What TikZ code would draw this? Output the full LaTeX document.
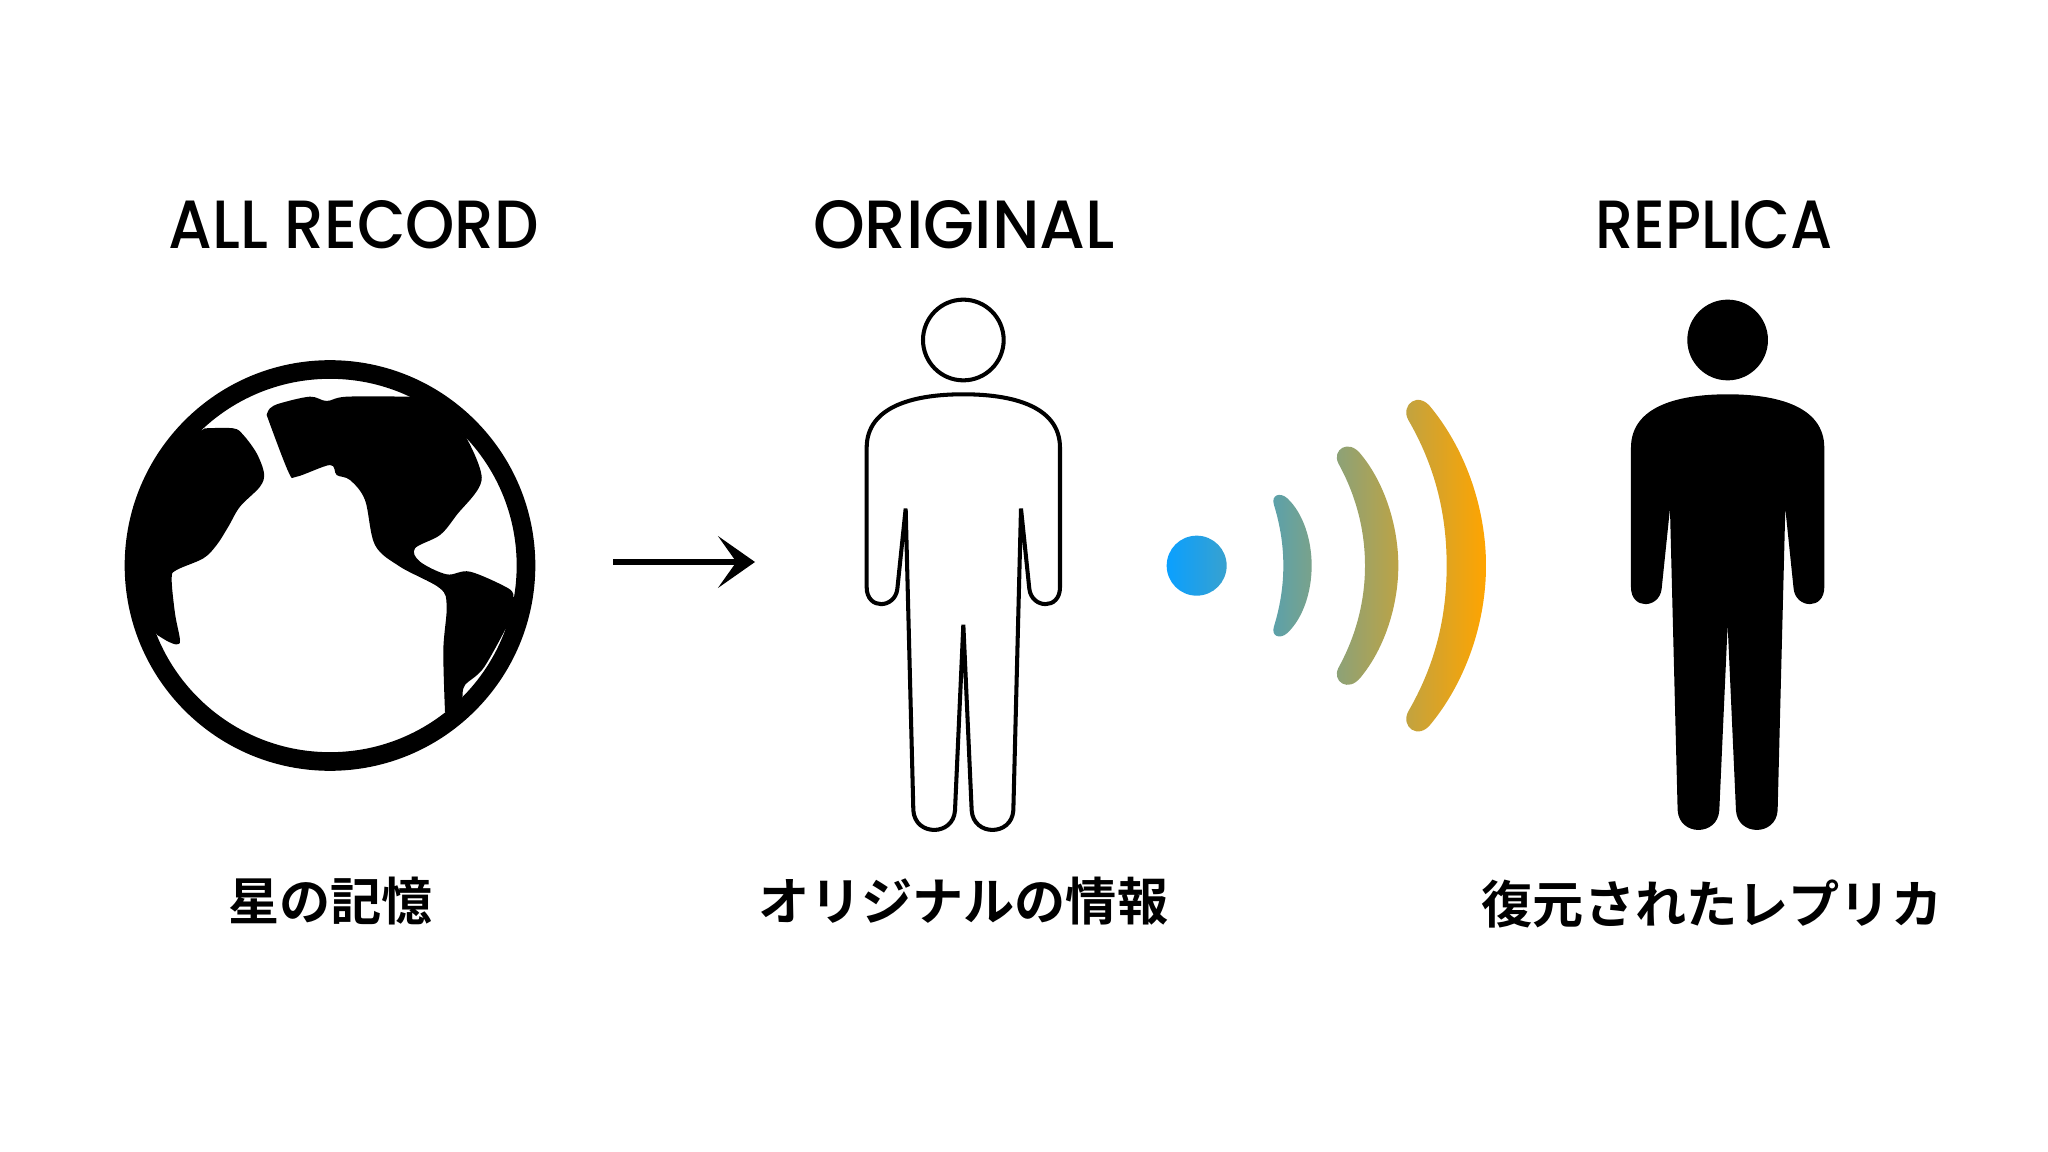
\documentclass[tikz,border=0pt]{standalone}
\usepackage{fontspec}
\usepackage{graphicx}
\usepackage{tikz}
\usetikzlibrary{arrows.meta, positioning}
\newfontfamily\latinfont{Poppins Medium}
\newfontfamily\jpfont{Noto Sans CJK JP Bold}
\definecolor{sigblue}{HTML}{0AA0FF}
\definecolor{sigorange}{HTML}{FFA400}

% one person, in zoomed units around the figure
\newcommand{\personbody}{
  (197,640) -- (172,865) .. controls (165,920) and (80,925) .. (80,860) -- (80,470)
  .. controls (80,350) and (230,320) .. (370,320) .. controls (510,320) and (660,350) .. (660,470)
  -- (660,860) .. controls (660,925) and (575,920) .. (568,865) -- (543,640)
  -- (520,1485) .. controls (515,1558) and (400,1558) .. (395,1485) -- (370,965)
  -- (345,1485) .. controls (340,1558) and (225,1558) .. (220,1485) -- cycle
  (370,168) circle[x radius=121, y radius=113]
}

\begin{document}
\begin{tikzpicture}[
  x=0.01cm, y=-0.01cm,
  heading/.style={font=\latinfont\fontsize{19.4}{23}\selectfont, inner sep=0pt, anchor=base},
  caption/.style={font=\jpfont\fontsize{14.55}{17}\selectfont, inner sep=0pt},
  arr/.style={-{Stealth[length=10.5pt,width=14.7pt,inset=5.2pt]}, line width=1.45pt},
  land/.style={fill=black},
  zoomed/.style={x=0.01cm/3, y=-0.01cm/3},
  tall/.style={x=0.01cm/3, y=-0.01cm/2.8},
]
\useasboundingbox (0,0) rectangle (2048,1152);

% titles
\node[heading] (allrecord) at (354,249) {\scalebox{.92}[1]{ALL RECORD}};
\node[heading] (original) at (964,249) {\scalebox{.966}[1]{ORIGINAL}};
\node[heading] (replica) at (1714,249) {\scalebox{.887}[1]{REPLICA}};

\node[caption] (kioku) at (330.5,901) {星の記憶};
\node[caption] (info) at (963.5,901) {オリジナルの情報};
\node[caption] (copy) at (1712,904) {復元されたレプリカ};

% globe
\begin{scope}[shift={(100,340)}, zoomed]
  \fill[land] plot[smooth,tension=.55] coordinates {(315,265) (400,265) (430,285) (470,340) (492,400) (480,440) (420,500) (385,560) (350,615) (310,655) (230,690) (215,715) (225,820) (240,900) (230,913) (205,905) (172,885)}
    -- (100,800) -- (100,500) -- (250,300) -- cycle;
  \fill[land] plot[smooth,tension=.55] coordinates {(500,225) (510,205) (540,190) (630,170) (680,183) (740,170) (930,170)}
    -- (1010,180) -- (1100,295)
    -- plot[smooth,tension=.55] coordinates {(1100,295) (1145,420) (1070,525) (1020,585) (945,625) (960,665) (1040,703) (1110,695) (1225,745) (1240,770)}
    -- (1270,800) -- (1215,870)
    -- plot[smooth,tension=.55] coordinates {(1215,870) (1150,985) (1095,1035) (1088,1068)}
    -- (1060,1130) -- (1035,1115)
    -- plot[smooth,tension=.55] coordinates {(1035,1115) (1030,930) (1040,800) (1020,745) (900,680) (825,615) (795,480) (750,420) (710,405) (690,375) (590,410) (565,395) (500,225)}
    -- cycle;
\end{scope}
\node[circle, draw=black, line width=5.3pt, minimum size=392*0.01cm, inner sep=0pt] (globe) at (330,565.5) {};

% arrow to the person
\coordinate (from) at (613,562);
\coordinate (to) at (755,562);
\draw[arr] (from) -- (to);

% persons
\begin{scope}[shift={(840,280)}, tall]
  \draw[line width=1.15pt] \personbody;
\end{scope}
\begin{scope}[shift={(1604.3,280)}, tall]
  \fill \personbody;
\end{scope}

% signal
\begin{scope}[shift={(1150,380)}, zoomed]
  \shade[left color=sigblue, right color=sigorange]
    (140,557) circle[radius=90]
    (372,375) .. controls (362,345) and (390,335) .. (412,355) .. controls (460,400) and (485,480) .. (485,557)
    .. controls (485,634) and (460,714) .. (412,759) .. controls (390,779) and (362,769) .. (372,739)
    .. controls (390,680) and (400,620) .. (400,557) .. controls (400,494) and (390,434) .. (372,375) -- cycle
    (565,250) .. controls (545,210) and (595,175) .. (632,222) .. controls (705,310) and (745,440) .. (745,557)
    .. controls (745,674) and (705,804) .. (632,892) .. controls (595,939) and (545,904) .. (565,864)
    .. controls (620,764) and (645,660) .. (645,557) .. controls (645,454) and (620,350) .. (565,250) -- cycle
    (775,120) .. controls (750,75) and (805,30) .. (845,85) .. controls (950,215) and (1008,390) .. (1008,557)
    .. controls (1008,724) and (950,899) .. (845,1029) .. controls (805,1084) and (750,1039) .. (775,994)
    .. controls (850,864) and (890,724) .. (890,557) .. controls (890,390) and (850,250) .. (775,120) -- cycle;
\end{scope}
\end{tikzpicture}
\end{document}
